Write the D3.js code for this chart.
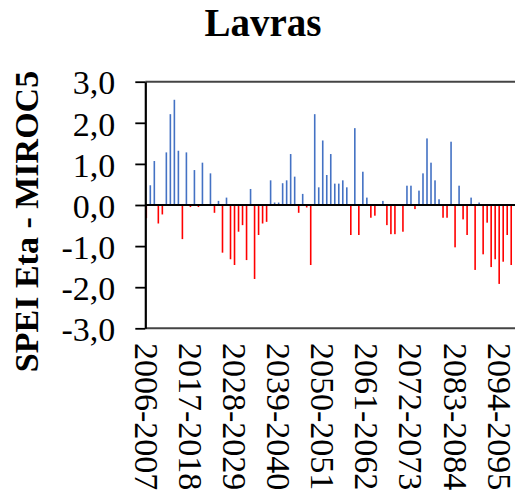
<!DOCTYPE html>
<html>
<head>
<meta charset="utf-8">
<script src="https://cdn.jsdelivr.net/npm/d3@7/dist/d3.min.js"></script>
<style>
  html, body { margin: 0; padding: 0; background: #fff; }
  svg { display: block; }
  text { font-family: "Liberation Serif", "Times New Roman", serif; fill: #000; }
</style>
</head>
<body>
<div id="chart"></div>
<script>
// Hydrological seasons 2006-2007 ... 2099-2100
const startYears = d3.range(2006, 2100);
const categories = startYears.map(y => `${y}-${y + 1}`);

// SPEI values per season (Eta - MIROC5, Lavras)
const speiValues = [
  -0.32, 0.48, 1.07, -0.45, -0.23, 1.28, 2.21, 2.56, 1.32, -0.83,
   1.28, -0.05, 0.85, -0.05, 1.03, 0.00, 0.77, -0.19, 0.10, -1.16,
   0.18, -1.32, -1.46, -0.65, -0.49, -1.34, 0.39, -1.80, -0.73, -0.45,
  -0.41, 0.60, 0.06, 0.06, 0.53, 0.60, 1.24, 0.69, -0.19, 0.27,
  -0.06, -1.46, 2.21, 0.43, 1.57, 0.73, 1.24, 0.52, 0.52, 0.60,
   0.43, -0.73, 1.87, -0.73, 0.81, 0.18, -0.31, -0.26, 0.00, 0.10,
  -0.49, -0.71, -0.71, 0.00, -0.65, 0.47, 0.47, -0.10, 0.35, 0.77,
   1.62, 1.03, 0.60, 0.14, -0.31, -0.31, 1.54, -1.03, 0.47, -0.35,
  -0.73, 0.18, -1.58, 0.06, -1.20, -0.43, -1.51, -1.32, -1.92, -1.38,
  -0.73, -1.46
];

const yTicks = [-3, -2, -1, 0, 1, 2, 3];
const labelEvery = 11;

const width = 515, height = 497;
const plotLeft = 145.3, slot = 4.01;
const yTop = 81.7, yBottom = 328.3;

const svg = d3.select("#chart").append("svg")
  .attr("width", width).attr("height", height);

const x = d3.scalePoint()
  .domain(categories)
  .range([plotLeft + 1, plotLeft + 1 + slot * (categories.length - 1)]);

const y = d3.scaleLinear().domain([-3, 3]).range([yBottom, yTop]);

const fmt = d => (d < 0 ? "-" : "") + Math.abs(d).toFixed(1).replace(".", ",");

// plot frame lines (top and bottom)
const frameRight = x.range()[1] + 6;
svg.append("g").selectAll("line")
  .data([3, -3])
  .join("line")
  .attr("x1", plotLeft).attr("x2", frameRight)
  .attr("y1", d => y(d)).attr("y2", d => y(d))
  .attr("stroke", "#444").attr("stroke-width", 2);

// bars
const barW = 1.6;
svg.append("g").selectAll("rect")
  .data(speiValues.map((v, i) => ({ cat: categories[i], v })))
  .join("rect")
  .attr("x", d => x(d.cat) - barW / 2)
  .attr("width", barW)
  .attr("y", d => y(Math.max(0, d.v)))
  .attr("height", d => Math.abs(y(d.v) - y(0)))
  .attr("fill", d => d.v >= 0 ? "#4472C4" : "#FF0000");

// zero line
svg.append("line")
  .attr("x1", plotLeft).attr("x2", frameRight)
  .attr("y1", y(0)).attr("y2", y(0))
  .attr("stroke", "#000").attr("stroke-width", 2);

// y axis
const yAxis = svg.append("g")
  .attr("transform", `translate(${plotLeft},0)`)
  .call(d3.axisLeft(y).tickValues(yTicks).tickFormat(fmt)
    .tickSize(10).tickSizeOuter(0).tickPadding(20));
yAxis.select(".domain").attr("stroke", "#000").attr("stroke-width", 2.2);
yAxis.selectAll(".tick line").attr("stroke", "#000").attr("stroke-width", 1.8);
yAxis.selectAll(".tick text")
  .attr("font-family", "Liberation Serif")
  .attr("font-size", 34)
  .attr("dy", "0.36em");

// x category labels (every 11th season)
svg.append("g").selectAll("text")
  .data(categories.filter((c, i) => i % labelEvery === 0))
  .join("text")
  .attr("transform", d => `translate(${x(d)},343) rotate(90)`)
  .attr("dy", "0.34em")
  .attr("font-size", 34)
  .attr("text-anchor", "start")
  .text(d => d);

// title
svg.append("text")
  .attr("x", 263).attr("y", 36)
  .attr("text-anchor", "middle")
  .attr("font-size", 39)
  .attr("font-weight", "bold")
  .text("Lavras");

// y axis title
svg.append("text")
  .attr("transform", "translate(38,221.5) rotate(-90)")
  .attr("text-anchor", "middle")
  .attr("font-size", 34)
  .attr("font-weight", "bold")
  .text("SPEI Eta - MIROC5");
</script>
</body>
</html>
